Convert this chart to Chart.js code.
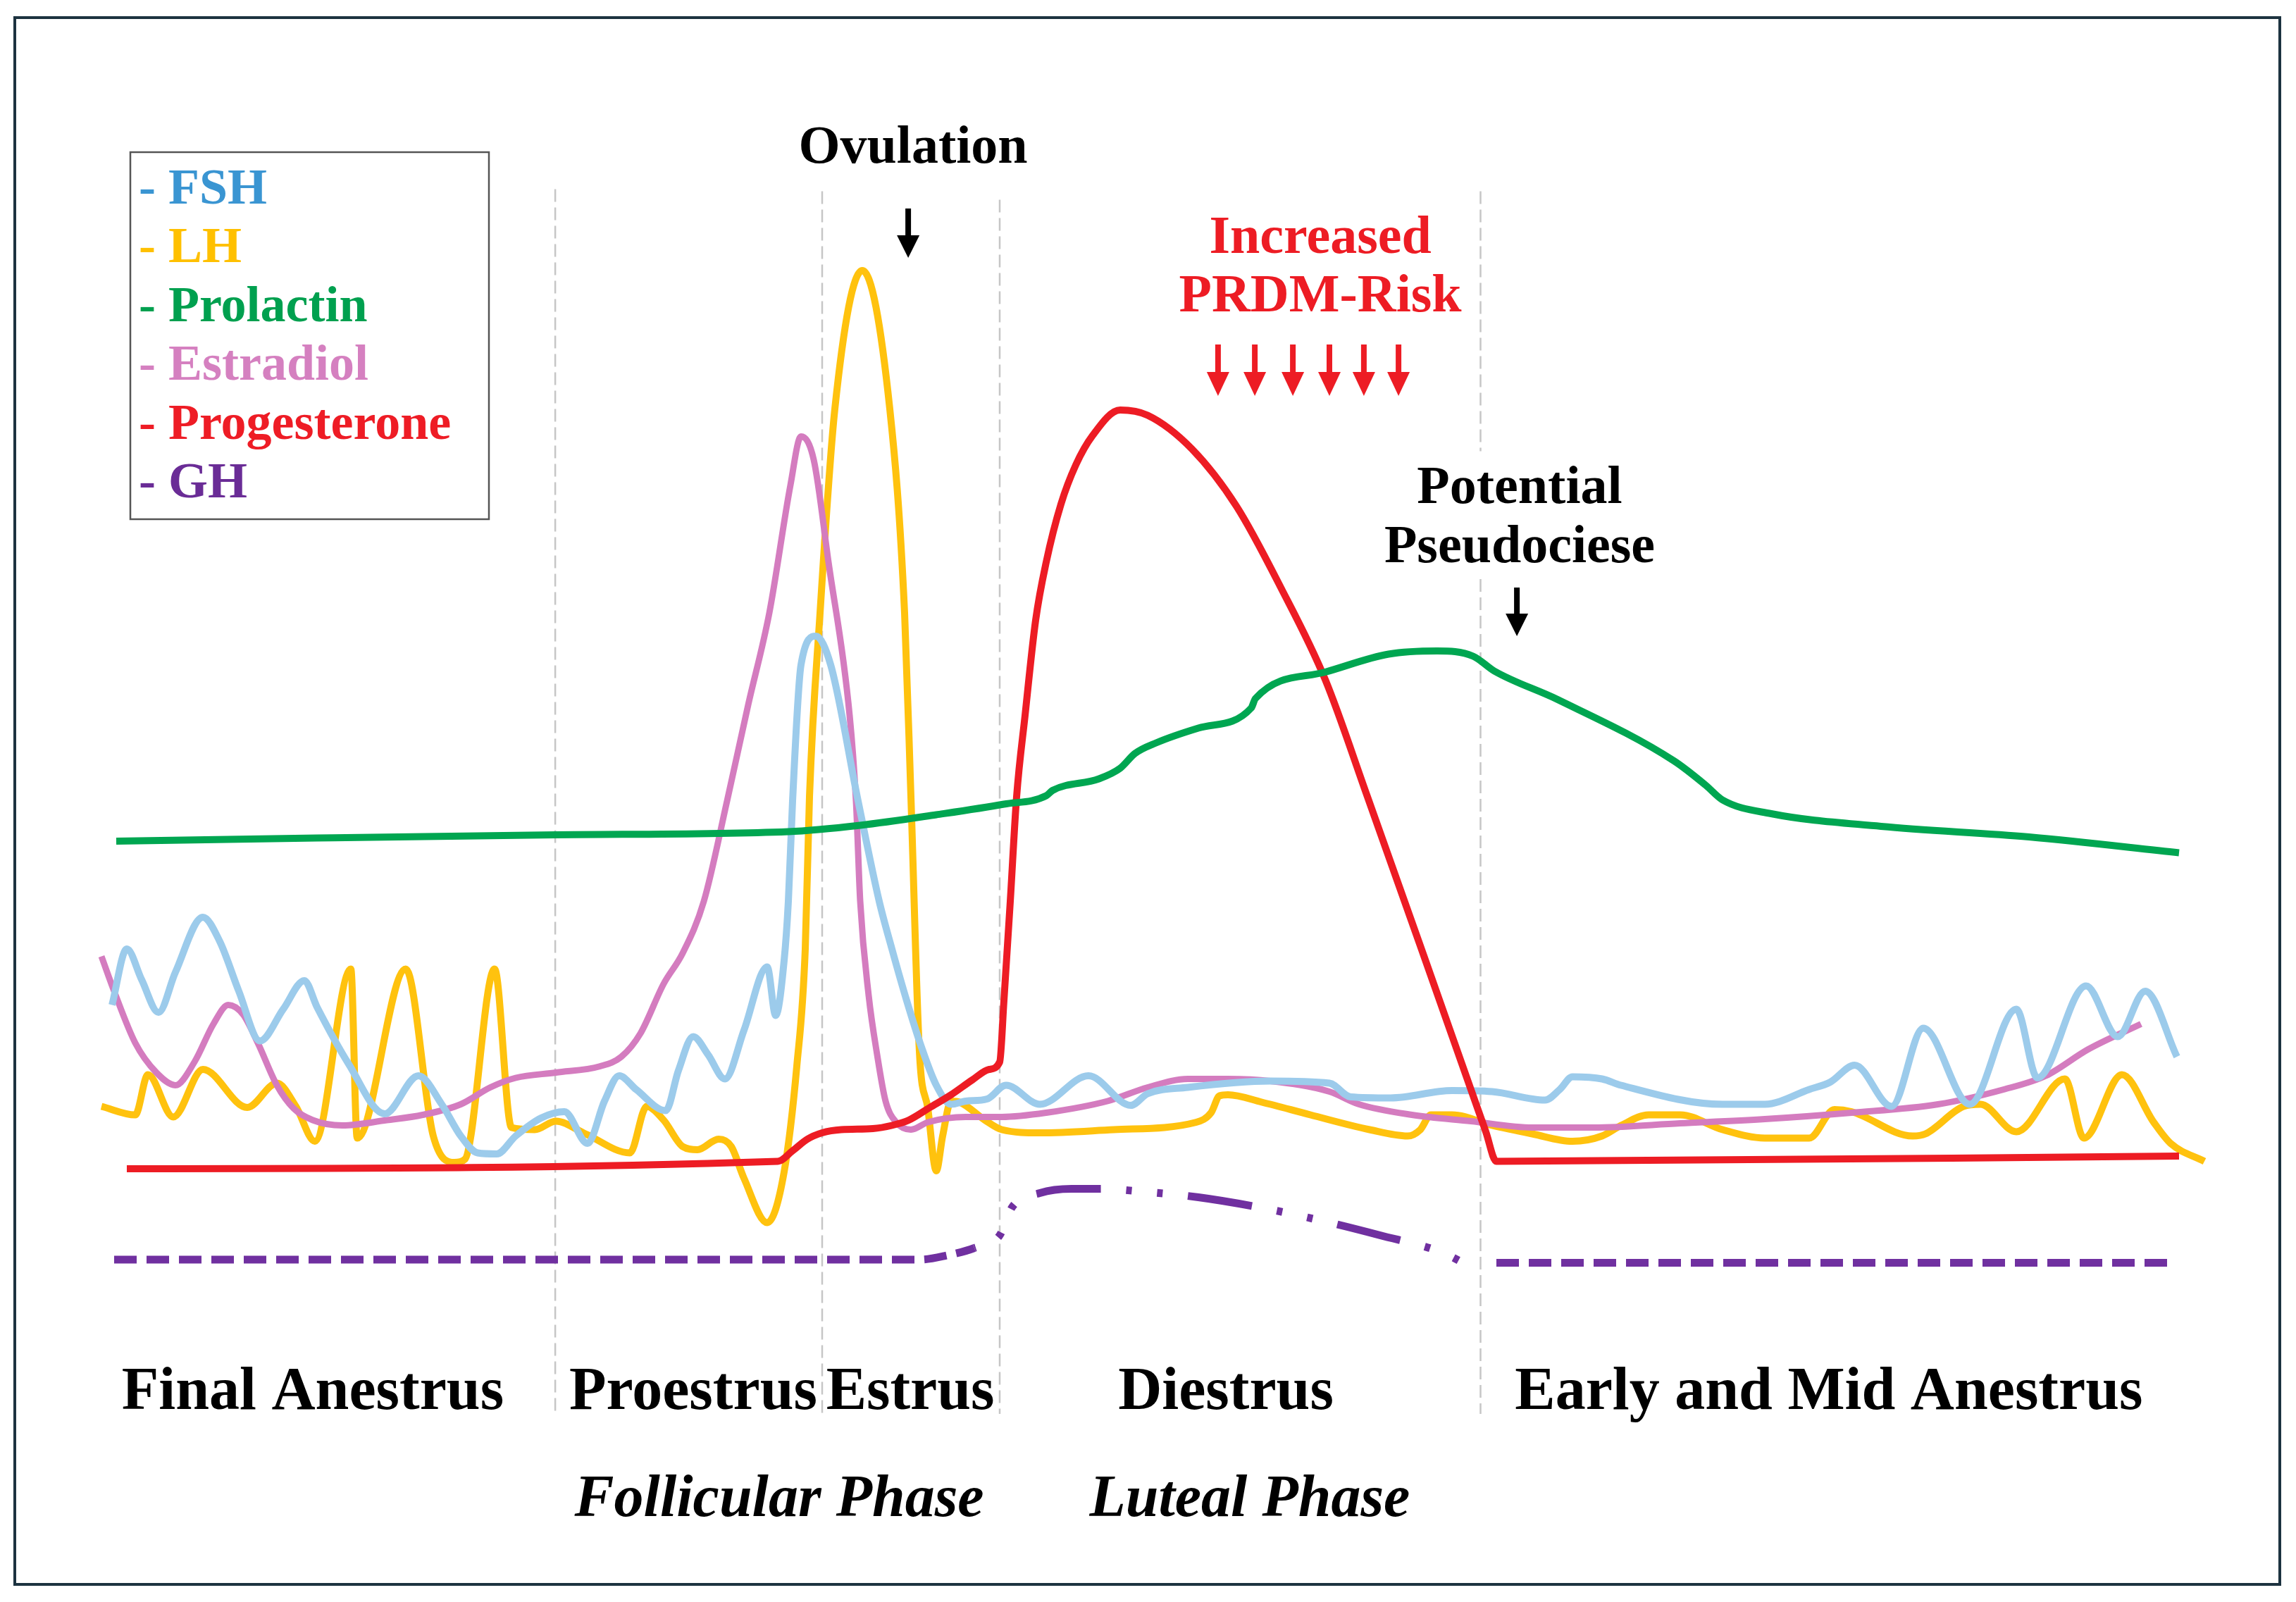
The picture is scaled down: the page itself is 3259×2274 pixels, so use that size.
<!DOCTYPE html>
<html>
<head>
<meta charset="utf-8">
<title>Hormone profile of the canine cycle</title>
<script src="https://cdn.jsdelivr.net/npm/chart.js@4.4.1/dist/chart.umd.min.js"></script>
<style>
  html, body { margin: 0; padding: 0; background: #fff; overflow: hidden; }
  #wrap { position: relative; width: 3259px; height: 2274px; }
</style>
</head>
<body>
<div id="wrap"><canvas id="cycleChart"></canvas></div>
<script>
// x = position in the cycle (0-101), y = relative hormone level (0-100)

// FSH
const fsh = [
  [1.3, 26.9], [2, 32.2], [2.7, 29.3], [3.5, 26.2], [4.3, 30], [5.6, 35.2], [6.4, 32.9], [7.3, 28.2],
  [8.3, 23.5], [9.4, 26.5], [10.4, 29.2], [11, 26.7], [12.5, 21.3], [14.2, 16.6], [15.8, 20.2],
  [16.9, 17.5], [17.8, 14.5], [18.6, 12.9], [19.5, 12.8], [20.4, 14.5], [21.6, 16.2], [22.7, 16.8],
  [23.8, 13.8], [24.6, 17.8], [25.3, 20.2], [26.1, 18.9], [27.5, 16.9], [28.1, 20.7], [28.8, 23.9],
  [29.5, 22.2], [30.3, 19.9], [31.2, 24.5], [32.3, 30.5], [32.7, 25.9], [33.1, 31.1], [33.3, 36.7],
  [33.5, 46.2], [33.9, 59.1], [34.6, 61.8], [35.3, 59.1], [36.6, 46.2], [37.6, 36.7], [38.2, 32.2],
  [38.9, 27.3], [39.6, 22.9], [40.3, 19.3], [41, 17.5], [41.7, 17.8], [42.7, 18], [43.6, 19.3],
  [45.2, 17.5], [47.5, 20.2], [49.5, 17.4], [50.3, 18.5], [52.2, 19.1], [56.1, 19.7], [58.9, 19.5],
  [59.9, 18.2], [61.8, 18.1], [64.7, 18.8], [66.6, 18.7], [69.1, 17.9], [69.8, 18.9], [70.4, 20.1],
  [71.8, 19.9], [72.7, 19.3], [77.5, 17.5], [79.5, 17.5], [81.6, 18.9], [82.6, 19.6], [83.75, 21.2],
  [85.5, 17.3], [87, 24.7], [89.2, 17.5], [91.4, 26.5], [92.4, 20], [94.7, 28.7], [96.2, 23.9],
  [97.5, 28.2], [99, 22]
];

// LH
const lh = [
  [0.8, 17.3], [2.4, 16.5], [3, 20.3], [4.2, 16.3], [5.6, 20.8], [7.7, 17.2], [9.1, 19.5], [10, 17.3],
  [10.9, 14], [12.6, 30.3], [12.9, 14.3], [15.2, 30.3], [16.5, 14.5], [17.5, 12], [18, 12.3],
  [19.4, 30.3], [20.2, 15.3], [21.3, 15.1], [22.3, 15.9], [23.7, 14.7], [25.8, 12.9], [26.6, 17.3],
  [27.4, 16], [28.3, 13.5], [29, 13.2], [30, 14.2], [30.6, 13.5], [31.2, 10.5], [32.3, 6.3],
  [33.1, 11.1], [33.7, 21.1], [34.1, 32.2], [34.3, 46.6], [34.8, 64], [35.5, 83.3], [36.8, 96.4],
  [38.1, 83.3], [38.8, 64], [39.1, 46.6], [39.5, 22.5], [39.9, 17.1], [40.3, 11.2], [40.6, 14.5],
  [41, 17.8], [41.4, 17.7], [42.6, 16], [43.4, 15.1], [45.2, 14.8], [48.7, 15.1], [52.6, 15.8],
  [53.3, 16.7], [53.7, 18.3], [54.1, 18.4], [55.7, 17.7], [58, 16.5], [60.8, 15.1], [62.6, 14.5],
  [63.2, 15.1], [63.7, 16.5], [64.7, 16.5], [66.6, 15.5], [68.5, 14.7], [70.4, 14], [71.8, 14.5],
  [72.7, 15.5], [74, 16.5], [75.5, 16.5], [77.5, 15.1], [79.5, 14.3], [81.6, 14.3], [82.8, 17],
  [83.6, 16.8], [86.5, 14.5], [87.1, 14.7], [88.9, 17.3], [89.7, 17.5], [91.4, 14.9], [93.7, 19.9],
  [94.6, 14.3], [96.4, 20.3], [97.9, 15.8], [98.7, 13.8], [100.3, 12.1]
];

// Prolaktin
const prolactin = [
  [1.5, 42.4], [11, 42.7], [22.3, 43], [33.3, 43.3], [36.7, 43.9], [40.3, 44.9], [43.5, 45.9],
  [45.5, 46.7], [45.8, 47.2], [48, 48.3], [49, 49.3], [49.7, 50.7], [50.7, 51.7], [52.7, 53.1],
  [55.2, 55], [55.4, 55.9], [58.7, 58.4], [61.7, 60.1], [64, 60.4], [65.7, 59.9], [66.7, 58.5],
  [69.7, 55.8], [75.2, 50], [76.7, 47.7], [77.5, 46.3], [79.8, 45], [85, 43.8], [92, 42.8], [99.1, 41.3]
];

// Estradiol
const estradiol = [
  [0.8, 31.5], [1.4, 28.2], [2.4, 23.3], [3.4, 20.5], [4.3, 19.3], [5.2, 21.5], [6.1, 25.1], [6.8, 26.9],
  [7.5, 26], [8.2, 23.3], [9.1, 19.3], [9.9, 17.1], [10.8, 16], [12.2, 15.5], [14.3, 16], [16, 16.5],
  [17.8, 17.5], [19.2, 19.1], [20.4, 20], [22.3, 20.5], [24.4, 21.1], [25.4, 22], [26.3, 24.2],
  [27.4, 28.9], [28.3, 31.8], [29.3, 36.7], [30.4, 46.2], [31.4, 55.3], [32.4, 64], [33.4, 76.1],
  [33.9, 80.7], [34.5, 78.5], [35.2, 68.8], [36.2, 54.3], [36.5, 46.2], [36.7, 36.7], [37.1, 27.8],
  [37.5, 22.2], [37.9, 17.8], [38.4, 15.8], [39.1, 15.1], [39.9, 15.8], [41.7, 16.3], [43.4, 16.3],
  [45.5, 16.7], [48.4, 17.8], [50.3, 19.1], [52.2, 19.9], [54.1, 19.9], [56.1, 19.7], [58.9, 18.7],
  [60.3, 17.5], [62.8, 16.5], [65.6, 15.9], [68.5, 15.3], [71.4, 15.3], [75.5, 15.7], [79.5, 16.1],
  [83.6, 16.7], [87.7, 17.5], [90.8, 18.9], [92.8, 20.2], [94.8, 22.7], [97.3, 25.1]
];

// Progesteron
const progesterone = [
  [2, 11.4], [32.8, 12.1], [33.5, 13.1], [34.2, 14.2], [34.9, 14.8], [35.8, 15.1], [37.3, 15.2],
  [38.2, 15.5], [39, 16], [40, 17.2], [41, 18.4], [42, 19.8], [42.8, 20.8], [43.3, 21.5], [43.5, 27.3],
  [43.8, 36.7], [44.1, 46.6], [44.5, 54.3], [45, 63.3], [45.5, 68.8], [46.2, 74.3], [46.9, 78],
  [47.7, 80.8], [49, 83.2], [50.3, 82.7], [52.4, 79.5], [54.5, 74.1], [56.6, 66.4], [58.7, 57.7],
  [60.7, 46.6], [63.5, 30.8], [66.3, 14.9], [66.8, 12.1], [99.1, 12.6]
];

// GH (null = Lücke an der Diestrus-Grenze)
const gh = [
  [1.4, 2.8], [39.5, 2.8], [40.8, 3.2], [42.1, 3.9], [43.3, 5.1], [43.9, 7.8], [45.2, 9.1], [46.7, 9.5],
  [48.2, 9.5], [49.7, 9.3], [52.7, 8.7], [55.7, 7.7], [58.5, 6.5], [61.3, 5.1], [64.2, 3.5], [65.6, 2.1],
  [66.1, null], [66.8, 2.5], [99, 2.5]
];

// Phasengrenzen (gestrichelte Linien)
const boundaryX = [22.27, 34.9, 43.3, 66.05];
const boundaryTop = [104.1, 103.9, 103.1, 103.9];
const boundaryBottom = -11.8;
const boundaryGap = [79.3, 67.2]; // nur letzte Linie, hinter "Potential Pseudociese"

// Beschriftungen
const stageNames = ['Final Anestrus', 'Proestrus', 'Estrus', 'Diestrus', 'Early and Mid Anestrus'];
const stageX = [10.8, 28.8, 39.07, 54, 82.53];
const phaseNames = ['Follicular Phase', 'Luteal Phase'];
const phaseX = [32.87, 55.13];
const riskArrowX = [53.63, 55.37, 57.17, 58.9, 60.53, 62.17];

const legendNames = ['FSH', 'LH', 'Prolactin', 'Estradiol', 'Progesterone', 'GH'];
const legendColors = ['#3a95d2', '#ffc000', '#00a04f', '#d580c0', '#ee1c25', '#6a2c96'];

const fshColor = '#9ccbeb';
const lhColor = '#ffc20e';
const prlColor = '#00a651';
const e2Color = '#d47cbf';
const p4Color = '#ed1c24';
const ghColor = '#7030a0';

const serif = "'Liberation Serif', 'Times New Roman', serif";

const toPoints = arr => arr.map(([x, y]) => ({ x: x, y: y }));

function lineSet(label, arr, color, width) {
    return {
        label: label,
        data: toPoints(arr),
        borderColor: color,
        borderWidth: width,
        pointRadius: 0,
        fill: false,
        cubicInterpolationMode: 'monotone',
        borderCapStyle: 'butt',
        borderJoinStyle: 'round',
        clip: false,
    };
}

// GH: gestrichelt, im Diestrus strich-punktiert
const isDashDot = ctx => ctx.p0.parsed.x >= 42 && ctx.p1.parsed.x <= 65.7;

const ghSet = lineSet('GH', gh, ghColor, 11);
ghSet.spanGaps = false;
ghSet.segment = {
    borderDash: ctx => isDashDot(ctx) ? [92, 36, 8, 36, 8, 36] : [32, 14],
    borderDashOffset: ctx => isDashDot(ctx) ? 90 : 0,
};

function drawArrow(ctx, px, yTop, yTip, color, headLen, headW, shaftW) {
    ctx.save();
    ctx.strokeStyle = color;
    ctx.fillStyle = color;
    ctx.lineWidth = shaftW;
    ctx.setLineDash([]);
    ctx.beginPath();
    ctx.moveTo(px, yTop);
    ctx.lineTo(px, yTip - headLen + 2);
    ctx.stroke();
    ctx.beginPath();
    ctx.moveTo(px - headW / 2, yTip - headLen);
    ctx.lineTo(px + headW / 2, yTip - headLen);
    ctx.lineTo(px, yTip);
    ctx.closePath();
    ctx.fill();
    ctx.restore();
}

const decorPlugin = {
    id: 'decor',
    beforeDraw(chart) {
        const ctx = chart.ctx;
        ctx.save();
        ctx.fillStyle = '#ffffff';
        ctx.fillRect(0, 0, chart.width, chart.height);
        ctx.restore();
    },
    beforeDatasetsDraw(chart) {
        const { ctx, scales: { x, y } } = chart;
        ctx.save();
        ctx.strokeStyle = '#c6c6c6';
        ctx.lineWidth = 2.5;
        ctx.setLineDash([18, 8]);
        boundaryX.forEach((bx, i) => {
            const px = x.getPixelForValue(bx);
            const spans = i === boundaryX.length - 1
                ? [[boundaryTop[i], boundaryGap[0]], [boundaryGap[1], boundaryBottom]]
                : [[boundaryTop[i], boundaryBottom]];
            spans.forEach(([a, b]) => {
                ctx.beginPath();
                ctx.moveTo(px, y.getPixelForValue(a));
                ctx.lineTo(px, y.getPixelForValue(b));
                ctx.stroke();
            });
        });
        ctx.restore();
    },
    afterDraw(chart) {
        const { ctx, scales: { x, y } } = chart;
        ctx.save();
        ctx.textAlign = 'center';
        ctx.textBaseline = 'alphabetic';

        // Ovulation
        ctx.fillStyle = '#000';
        ctx.font = 'bold 76px ' + serif;
        ctx.fillText('Ovulation', x.getPixelForValue(39.2), y.getPixelForValue(106.6));
        drawArrow(ctx, x.getPixelForValue(38.97), y.getPixelForValue(102.27), y.getPixelForValue(97.6), '#000', 32, 32, 8);

        // PRDM-Risiko
        ctx.fillStyle = '#ed1c24';
        ctx.fillText('Increased', x.getPixelForValue(58.47), y.getPixelForValue(98.07));
        ctx.fillText('PRDM-Risk', x.getPixelForValue(58.47), y.getPixelForValue(92.53));
        riskArrowX.forEach(ax => {
            drawArrow(ctx, x.getPixelForValue(ax), y.getPixelForValue(89.4), y.getPixelForValue(84.53), '#ed1c24', 34, 32, 8);
        });

        // Pseudogravidität
        ctx.fillStyle = '#000';
        ctx.fillText('Potential', x.getPixelForValue(67.9), y.getPixelForValue(74.4));
        ctx.fillText('Pseudociese', x.getPixelForValue(67.9), y.getPixelForValue(68.8));
        drawArrow(ctx, x.getPixelForValue(67.77), y.getPixelForValue(66.4), y.getPixelForValue(61.8), '#000', 32, 32, 8);

        // Zyklusphasen
        ctx.font = 'bold 86px ' + serif;
        stageNames.forEach((name, i) => {
            ctx.fillText(name, x.getPixelForValue(stageX[i]), y.getPixelForValue(-11.33));
        });
        ctx.font = 'italic bold 84px ' + serif;
        phaseNames.forEach((name, i) => {
            ctx.fillText(name, x.getPixelForValue(phaseX[i]), y.getPixelForValue(-21.47));
        });

        // Legende
        ctx.lineWidth = 2.5;
        ctx.strokeStyle = '#555';
        ctx.strokeRect(185, 216, 509, 521);
        ctx.textAlign = 'left';
        ctx.font = 'bold 72px ' + serif;
        legendNames.forEach((name, i) => {
            ctx.fillStyle = legendColors[i];
            ctx.fillText('- ' + name, 197, 289 + i * 83.4);
        });

        // Rahmen
        ctx.lineWidth = 4;
        ctx.strokeStyle = '#1d3340';
        ctx.strokeRect(21, 25, 3215, 2224);
        ctx.restore();
    }
};

new Chart(document.getElementById('cycleChart').getContext('2d'), {
    type: 'line',
    data: {
        datasets: [
            lineSet('Prolactin', prolactin, prlColor, 10),
            lineSet('Progesterone', progesterone, p4Color, 10),
            lineSet('FSH', fsh, fshColor, 10),
            lineSet('Estradiol', estradiol, e2Color, 9),
            lineSet('LH', lh, lhColor, 10),
            ghSet,
        ]
    },
    options: {
        responsive: true,
        maintainAspectRatio: false,
        animation: false,
        devicePixelRatio: 1,
        layout: { padding: { left: 120, right: 109, top: 330, bottom: 444 } },
        plugins: {
            legend: { display: false },
            tooltip: { enabled: false },
        },
        scales: {
            x: { type: 'linear', min: 0, max: 101, display: false },
            y: { type: 'linear', min: 0, max: 100, display: false },
        }
    },
    plugins: [decorPlugin]
});
</script>
</body>
</html>
